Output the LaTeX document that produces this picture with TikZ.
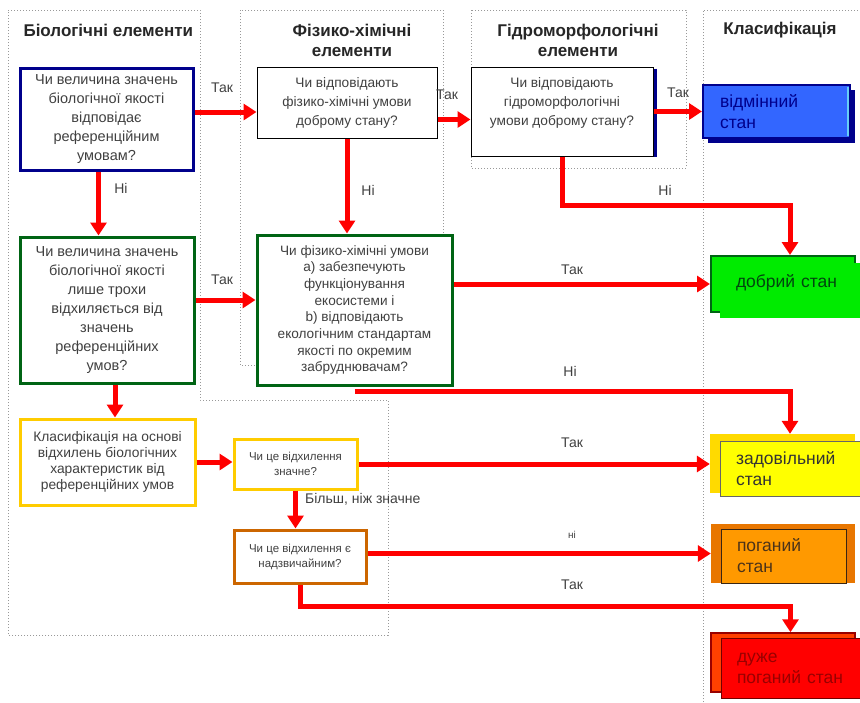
\documentclass[tikz,border=0pt]{standalone}
\usepackage{fontspec}
\setmainfont{Liberation Sans}
\usetikzlibrary{arrows.meta, positioning, calc}
\definecolor{navy}{RGB}{0,0,140}
\definecolor{dgreen}{RGB}{0,100,20}
\definecolor{gold}{RGB}{255,204,0}
\definecolor{rust}{RGB}{204,102,0}
\definecolor{excel}{RGB}{51,102,255}
\definecolor{goodc}{RGB}{0,235,0}
\definecolor{satis}{RGB}{255,255,0}
\definecolor{satisb}{RGB}{255,218,0}
\definecolor{poor}{RGB}{255,153,0}
\definecolor{poorb}{RGB}{232,118,0}
\definecolor{bad}{RGB}{255,0,0}
\definecolor{badb}{RGB}{255,64,0}

\begin{document}
\begin{tikzpicture}[x=1pt, y=-1pt,
      q/.style={rectangle, fill=white, draw=black, line width=1pt, align=center,
                text=black!75, inner sep=0pt, font=\fontsize{13.7}{19}\selectfont},
      hdr/.style={font=\bfseries\fontsize{17}{20}\selectfont, align=center, text=black!85},
      lbl/.style={font=\fontsize{14}{14}\selectfont, text=black!75, inner sep=0pt},
      frame/.style={draw=black!40, dotted, line width=1pt},
      arr/.style={draw=red, line width=5pt, -{Triangle[length=13pt,width=16pt]}},
      clsB/.style={rectangle, inner sep=0pt},
      clsF/.style={rectangle, inner xsep=16pt, inner ysep=0pt, align=left,
                   font=\fontsize{17.5}{21}\selectfont}
    ]
    \useasboundingbox (0,0) rectangle (860,702);
    \draw[frame] (8,10) -- (200,10) -- (200,400) -- (388,400) -- (388,635) -- (8,635) -- cycle;
    \draw[frame] (240,10) rectangle (443,365);
    \draw[frame] (471,10) rectangle (686,168);
    \draw[frame] (703,702) -- (703,10) -- (860,10);

    \node[hdr, anchor=west] (hbio) at (20,30) {Біологічні елементи};
    \node[hdr] (hpc) at (352,40) {Фізико-хімічні\\елементи};
    \node[hdr] (hhm) at (578,40) {Гідроморфологічні\\елементи};
    \node[hdr] (hcls) at (780,30) {Класифікація};

    \node[q, draw=navy, line width=3pt, minimum width=173pt, minimum height=102pt, font=\fontsize{14.5}{19}\selectfont]
      (bio1) at (106.5,119) {Чи величина значень\\біологічної якості\\відповідає\\референційним\\умовам?};
    \node[q, minimum width=180pt, minimum height=71pt] (pc1) at (347,102.5)
      {Чи відповідають\\фізико-хімічні умови\\доброму стану?};
    \node[q, minimum width=182pt, minimum height=89pt] (hm1) at (562,111.5)
      {Чи відповідають\\гідроморфологічні\\умови доброму стану?\\ \mbox{}};
    \draw[navy, line width=3pt] ([xshift=1.5pt,yshift=-2pt]hm1.north east) -- ([xshift=1.5pt]hm1.south east);
    \node[q, draw=dgreen, line width=3pt, minimum width=174pt, minimum height=146pt, font=\fontsize{14.5}{19}\selectfont]
      (grn1) at (107,310) {Чи величина значень\\біологічної якості\\лише трохи\\відхиляється від\\значень\\референційних\\умов?};
    \node[q, draw=dgreen, line width=3pt, minimum width=195pt, minimum height=150pt, font=\fontsize{13.6}{16.7}\selectfont]
      (grn2) at (354.5,310) {Чи фізико-хімічні умови\\a) забезпечують\\функціонування\\екосистеми і\\b) відповідають\\екологічним стандартам\\якості по окремим\\забруднювачам?};
    \node[q, draw=gold, line width=3pt, minimum width=175pt, minimum height=86pt, font=\fontsize{13.8}{16}\selectfont]
      (yel1) at (107.5,462) {Класифікація на основі\\відхилень біологічних\\характеристик від\\референційних умов};
    \node[q, draw=gold, line width=3pt, minimum width=123pt, minimum height=50pt, font=\fontsize{11.5}{15}\selectfont]
      (yel2) at (295.5,464) {Чи це відхилення\\значне?};
    \node[q, draw=rust, line width=3pt, minimum width=132pt, minimum height=53pt, font=\fontsize{11.5}{15}\selectfont]
      (org1) at (300,556.5) {Чи це відхилення є\\надзвичайним?};

    \node[clsB, fill=navy, minimum width=147pt, minimum height=53pt] (vidB) at (781.5,116.5) {};
    \node[clsF, fill=excel, draw=navy, line width=2pt, minimum height=53pt, text width=113pt, inner xsep=17pt, text=navy]
      (vid) at (776.5,111.5) {відмінний\\стан};
    \draw[cyan!60, line width=1.5pt] ([xshift=-3pt,yshift=-3pt]vid.north east) -- ([xshift=-3pt,yshift=3pt]vid.south east);
    \node[clsB, fill=goodc, draw=dgreen, line width=2pt, minimum width=144pt, minimum height=56pt] (dobB) at (783,284) {};
    \node[clsF, fill=goodc, minimum height=55pt, text width=108pt, text=dgreen!70!black]
      (dob) at (790,290.5) {добрий стан\\[-3pt]\mbox{}};
    \node[clsB, fill=satisb, minimum width=145pt, minimum height=59pt] (zadB) at (782.5,463.5) {};
    \node[clsF, fill=satis, draw=black!60, line width=1pt, minimum height=55pt, text width=108pt, text=black!80]
      (zad) at (790,468.5) {задовільний\\стан};
    \node[clsB, fill=poorb, minimum width=144pt, minimum height=59pt] (pogB) at (783,553.5) {};
    \node[clsF, fill=poor, draw=black!70!brown, line width=1pt, minimum height=54pt, text width=93pt, text=black!60!brown]
      (pog) at (783.5,556) {поганий\\стан};
    \node[clsB, fill=badb, draw=black!40!red, line width=1.5pt, minimum width=144pt, minimum height=59pt] (dpgB) at (783,662.5) {};
    \node[clsF, fill=bad, draw=black!55!red, line width=1pt, minimum height=60pt, text width=107pt, text=black!40!red]
      (dpg) at (790.5,668) {дуже\\поганий стан};

    \coordinate (b1) at ([yshift=7pt]bio1.east);
    \coordinate (b2) at ([xshift=-8pt]bio1.south);
    \coordinate (p1) at ([yshift=-17pt]pc1.east);
    \coordinate (g1) at ([yshift=10pt]grn1.east);
    \coordinate (g2) at ([xshift=8pt]grn1.south);
    \coordinate (g3) at ([yshift=-5pt]grn2.south);
    \draw[arr] (b1) -- (b1 -| pc1.west);
    \draw[arr] (b2) -- (b2 |- grn1.north);
    \draw[arr] (pc1.south) -- (pc1.south |- grn2.north);
    \draw[arr] (p1) -- (p1 -| hm1.west);
    \draw[arr] (hm1.east) -- (vid.west);
    \draw[arr] (hm1.south) -- ++(0,49) -| (dobB.north -| dob.north);
    \draw[arr] (g1) -- (g1 -| grn2.west);
    \draw[arr] (grn2.east |- dobB.west) -- (dobB.west);
    \draw[arr] (g3) -| (zadB.north -| zad.north);
    \draw[arr] (g2) -- (g2 |- yel1.north);
    \draw[arr] (yel1.east) -- (yel1.east -| yel2.west);
    \draw[arr] (yel2.east) -- (yel2.east -| zadB.west);
    \draw[arr] (yel2.south) -- (yel2.south |- org1.north);
    \draw[arr] (org1.east |- pogB.west) -- (pogB.west);
    \draw[arr] (org1.south) -- ++(0,22) -| (dpgB.north -| dpg.north);

    \node[lbl] (l1) at (222,88) {Так};
    \node[lbl] (l2) at (121,188) {Ні};
    \node[lbl] (l3) at (368,190) {Ні};
    \node[lbl] (l4) at (447,95) {Так};
    \node[lbl] (l5) at (678,93) {Так};
    \node[lbl] (l6) at (665,190) {Ні};
    \node[lbl] (l7) at (222,280) {Так};
    \node[lbl] (l8) at (572,270) {Так};
    \node[lbl] (l9) at (570,371) {Ні};
    \node[lbl] (l10) at (572,443) {Так};
    \node[lbl, anchor=west] (l11) at (305,499) {Більш, ніж значне};
    \node[lbl, font=\fontsize{10}{10}\selectfont] (l12) at (572,535) {ні};
    \node[lbl] (l13) at (572,585) {Так};
  \end{tikzpicture}
\end{document}
